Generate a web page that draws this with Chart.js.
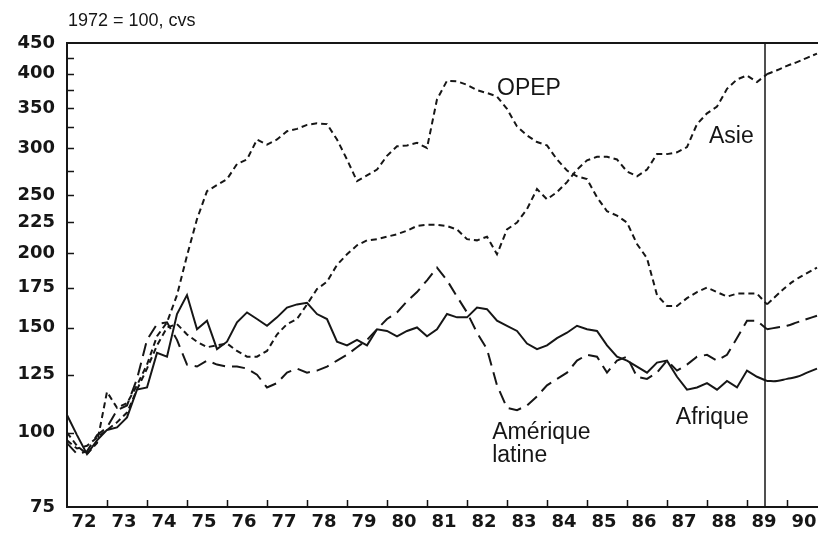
<!DOCTYPE html>
<html>
<head>
<meta charset="utf-8">
<script src="https://cdn.jsdelivr.net/npm/chart.js@4"></script>
<style>
  body { margin: 0; background: #fff; }
  #wrap { width: 818px; height: 535px; }
</style>
</head>
<body>
<div id="wrap"><canvas id="chart" width="818" height="535"></canvas></div>
<script>
// quarterly observations, 1972 Q1 to mid-1989 (1972 = 100, seasonally adjusted)
const quarters = [
  72.00, 72.25, 72.50, 72.75, 73.00, 73.25, 73.50, 73.75, 74.00, 74.25, 74.50, 74.75,
  75.00, 75.25, 75.50, 75.75, 76.00, 76.25, 76.50, 76.75, 77.00, 77.25, 77.50, 77.75,
  78.00, 78.25, 78.50, 78.75, 79.00, 79.25, 79.50, 79.75, 80.00, 80.25, 80.50, 80.75,
  81.00, 81.25, 81.50, 81.75, 82.00, 82.25, 82.50, 82.75, 83.00, 83.25, 83.50, 83.75,
  84.00, 84.25, 84.50, 84.75, 85.00, 85.25, 85.50, 85.75, 86.00, 86.25, 86.50, 86.75,
  87.00, 87.25, 87.50, 87.75, 88.00, 88.25, 88.50, 88.75, 89.00, 89.25, 89.50
];

const opep = [
  100, 95, 92, 96, 117, 110, 112, 120, 130, 145, 153, 170,
  198, 228, 254, 260, 266, 282, 287, 310, 304, 310, 320, 323,
  328, 330, 329, 310, 287, 264, 270, 276, 291, 302, 303, 306,
  300, 362, 389, 388, 383, 375, 371, 366, 349, 326, 315, 307,
  303, 287, 275, 269, 266, 248, 235, 231, 225, 207, 196, 170,
  163, 163, 168, 172, 175, 172, 169, 171, 171, 171, 164
];

const asie = [
  97, 94, 95, 98, 101, 104, 108, 118, 128, 140, 150, 152,
  146, 142, 139, 140, 141, 137, 134, 134, 137, 146, 152, 155,
  164, 174, 179, 191, 199, 206, 210, 211, 213, 215, 218, 222,
  223, 223, 222, 219, 211, 210, 213, 199, 219, 225, 237, 256,
  246, 253, 263, 276, 286, 290, 290, 287, 274, 269, 276, 293,
  293, 295, 301, 329, 343, 352, 377, 391, 397, 387, 399
];

const ameriqueLatine = [
  96, 92, 93, 99, 102, 109, 111, 123, 143, 152, 153, 143,
  130, 129, 132, 130, 129, 129, 128, 125, 119, 121, 126, 128,
  126, 127, 129, 132, 135, 139, 143, 149, 155, 159, 166, 172,
  180, 189, 180, 169, 159, 147, 138, 120, 110, 109, 111, 115,
  120, 123, 126, 132, 135, 134, 126, 132, 134, 124, 123, 126,
  132, 127, 130, 134, 135, 132, 135, 144, 154, 154, 149
];

const afrique = [
  107, 99, 92, 97, 101, 102, 106, 118, 119, 136, 134, 158,
  170, 149, 154, 138, 142, 153, 159, 155, 151, 156, 162, 164,
  165, 158, 155, 142, 140, 143, 140, 149, 148, 145, 148, 150,
  145, 149, 158, 156, 156, 162, 161, 154, 151, 148, 141, 138,
  140, 144, 147, 151, 149, 148, 140, 134, 132, 129, 126, 131,
  132, 124, 118, 119, 121, 118, 122, 119, 127, 124, 122
];

// projections beyond the vertical line
const forecastQuarters = [89.50, 89.75, 90.00, 90.25, 90.50, 90.75];
const opepForecast = [164, 170, 176, 181, 185, 189];
const asieForecast = [399, 405, 412, 418, 425, 432];
const ameriqueLatineForecast = [149, 150, 151, 153, 155, 157];
const afriqueForecast = [122, 122, 123, 124, 126, 128];

const yearLabels = [72.5, 73.5, 74.5, 75.5, 76.5, 77.5, 78.5, 79.5, 80.5, 81.5,
  82.5, 83.5, 84.5, 85.5, 86.5, 87.5, 88.5, 89.5, 90.5];
const yearMarks = [73, 74, 75, 76, 77, 78, 79, 80, 81, 82, 83, 84, 85, 86, 87, 88, 89, 90];
const yLabels = [75, 100, 125, 150, 175, 200, 225, 250, 300, 350, 400, 450];
const yMarks = [100, 125, 150, 175, 200, 225, 250, 275, 300, 325, 350, 375, 400, 425];
const forecastStart = 89.45;

const seriesNames = [
  { text: 'OPEP', x: 82.75, y: 377 },
  { text: 'Asie', x: 88.05, y: 314 },
  { text: 'Amérique', x: 82.63, y: 100 },
  { text: 'latine', x: 82.63, y: 91.4 },
  { text: 'Afrique', x: 87.22, y: 105.8 }
];

const INK = '#161616';
const shortDash = [6, 4];
const longDash = [13, 7];

function pts(xs, ys) {
  return ys.map((v, i) => ({ x: xs[i], y: v }));
}

function series(label, xs, ys, dash, smooth) {
  return {
    label: label,
    data: pts(xs, ys),
    borderColor: INK,
    borderWidth: 2,
    borderDash: dash,
    pointRadius: 0,
    fill: false,
    tension: smooth ? 0.4 : 0
  };
}

const decorations = {
  id: 'decorations',
  afterDatasetsDraw(chart) {
    const { ctx, chartArea: a, scales: { x, y } } = chart;
    ctx.save();
    ctx.strokeStyle = INK;
    ctx.lineWidth = 2;
    ctx.beginPath();
    ctx.moveTo(a.left, a.top);
    ctx.lineTo(818, a.top);
    ctx.stroke();

    const fx = x.getPixelForValue(forecastStart);
    ctx.lineWidth = 1.5;
    ctx.beginPath();
    ctx.moveTo(fx, a.top);
    ctx.lineTo(fx, a.bottom);
    ctx.stroke();

    ctx.lineWidth = 1.5;
    ctx.beginPath();
    yearMarks.forEach(v => {
      const px = Math.round(x.getPixelForValue(v)) + 0.5;
      ctx.moveTo(px, a.bottom);
      ctx.lineTo(px, a.bottom - 7);
    });
    yMarks.forEach(v => {
      const py = Math.round(y.getPixelForValue(v)) + 0.5;
      ctx.moveTo(a.left, py);
      ctx.lineTo(a.left + 7, py);
    });
    ctx.stroke();

    ctx.fillStyle = INK;
    ctx.textBaseline = 'middle';
    ctx.font = '23px "Liberation Sans", Arial, sans-serif';
    seriesNames.forEach(n => {
      ctx.fillText(n.text, x.getPixelForValue(n.x), y.getPixelForValue(n.y));
    });

    ctx.font = '18px "Liberation Sans", Arial, sans-serif';
    ctx.fillText('1972 = 100, cvs', 68, 21);
    ctx.restore();
  }
};

new Chart(document.getElementById('chart'), {
  type: 'line',
  data: {
    datasets: [
      series('OPEP', quarters, opep, shortDash, false),
      series('Asie', quarters, asie, shortDash, false),
      series('Amérique latine', quarters, ameriqueLatine, longDash, false),
      series('Afrique', quarters, afrique, [], false),
      series('OPEP prév.', forecastQuarters, opepForecast, shortDash, true),
      series('Asie prév.', forecastQuarters, asieForecast, shortDash, true),
      series('Amérique latine prév.', forecastQuarters, ameriqueLatineForecast, longDash, true),
      series('Afrique prév.', forecastQuarters, afriqueForecast, [], true)
    ]
  },
  options: {
    responsive: false,
    animation: false,
    layout: { padding: { top: 43, right: 0, left: 0, bottom: 0 } },
    plugins: {
      legend: { display: false },
      tooltip: { enabled: false }
    },
    scales: {
      x: {
        type: 'linear',
        min: 72,
        max: 90.775,
        afterBuildTicks: scale => {
          scale.ticks = yearLabels.map(v => ({ value: v }));
        },
        afterFit: scale => {
          scale.height = 28;
          scale.paddingRight = 0;
          scale.paddingLeft = 0;
        },
        grid: { display: true, drawOnChartArea: false, drawTicks: false },
        border: { display: true, color: INK, width: 2 },
        ticks: {
          autoSkip: false,
          maxRotation: 0,
          padding: 5,
          labelOffset: -3,
          color: INK,
          font: { family: '"DejaVu Sans", sans-serif', size: 18, weight: 'bold' },
          callback: v => String(Math.floor(v))
        }
      },
      y: {
        type: 'logarithmic',
        min: 75,
        max: 450,
        afterBuildTicks: scale => {
          scale.ticks = yLabels.map(v => ({ value: v }));
        },
        afterFit: scale => {
          scale.width = 67;
          scale.paddingTop = 0;
          scale.paddingBottom = 0;
        },
        grid: { display: true, drawOnChartArea: false, drawTicks: false },
        border: { display: true, color: INK, width: 2 },
        ticks: {
          autoSkip: false,
          padding: 12,
          labelOffset: 0,
          color: INK,
          font: { family: '"DejaVu Sans", sans-serif', size: 18, weight: 'bold' },
          callback: v => String(v)
        }
      }
    }
  },
  plugins: [decorations]
});
</script>
</body>
</html>
